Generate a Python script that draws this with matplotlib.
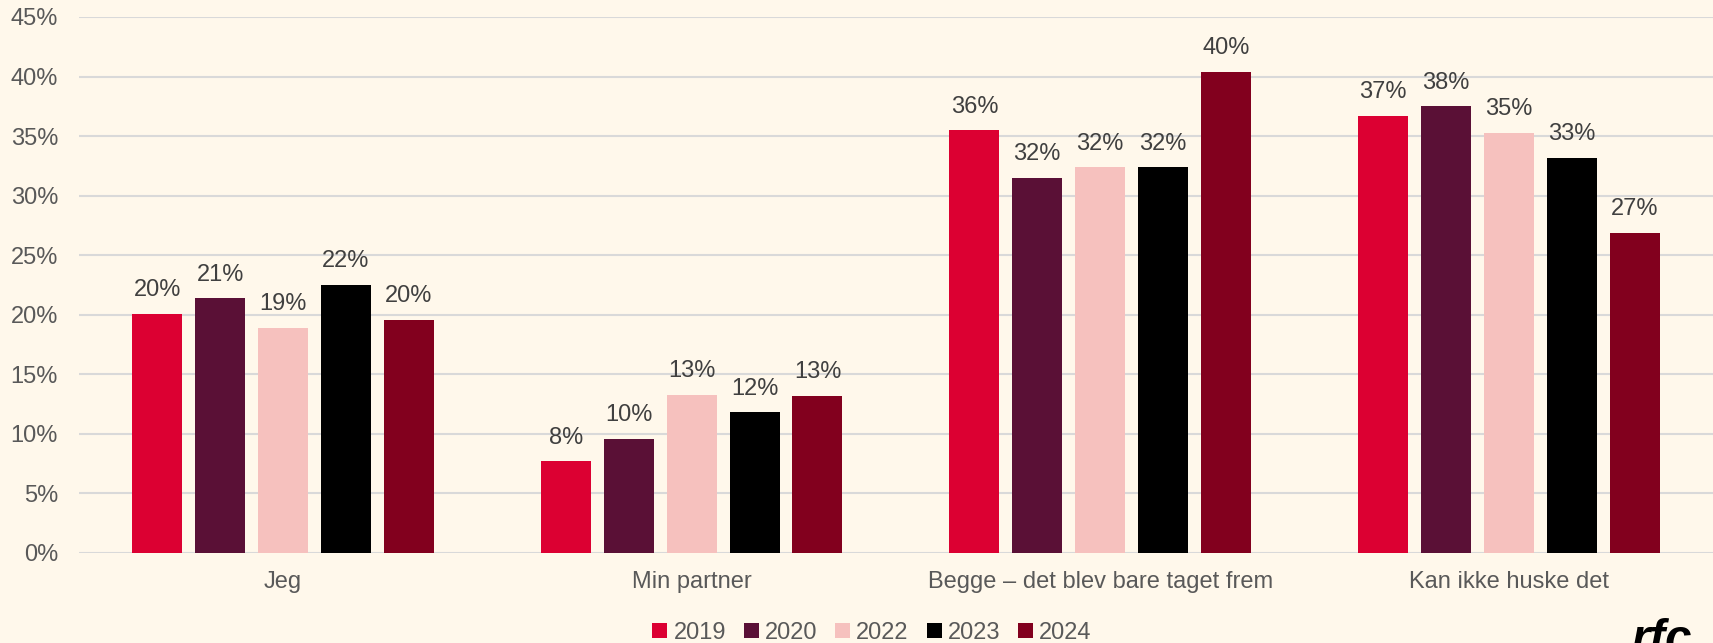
import numpy as np
import matplotlib
matplotlib.use('Agg')
import matplotlib.pyplot as plt
from matplotlib.patches import Patch

# data
categories = ['Jeg', 'Min partner', 'Begge – det blev bare taget frem', 'Kan ikke huske det']
years = ['2019', '2020', '2022', '2023', '2024']
v2019 = [20.1, 7.7, 35.5, 36.7]
v2020 = [21.4, 9.6, 31.5, 37.5]
v2022 = [18.9, 13.3, 32.4, 35.3]
v2023 = [22.5, 11.8, 32.4, 33.2]
v2024 = [19.6, 13.2, 40.4, 26.9]
colors = ['#DC0032', '#5A1036', '#F6C1BE', '#000000', '#82001E']

bg = '#FFF8EB'
plt.rcParams['font.family'] = ['Liberation Sans', 'DejaVu Sans']

fig = plt.figure(figsize=(17.13, 6.43), dpi=100, facecolor=bg)
ax = fig.add_axes([0.046, 0.14, 0.954, 0.8336])
ax.set_facecolor(bg)

x = np.arange(len(categories))
w = 0.1224
step = 0.154
series = [v2019, v2020, v2022, v2023, v2024]
for i, (vals, c) in enumerate(zip(series, colors)):
    pos = x + (i - 2) * step
    bars = ax.bar(pos, vals, width=w, color=c, zorder=3)
    for b, v in zip(bars, vals):
        ax.annotate(f'{v:.0f}%', (b.get_x() + b.get_width() / 2, v),
                    xytext=(0, 9), textcoords='offset points',
                    ha='center', va='bottom', fontsize=17, color='#404040')

ax.set_xlim(-0.5, len(categories) - 0.5)
ax.set_ylim(0, 45)
ax.set_yticks(np.arange(0, 46, 5))
ax.set_yticklabels([f'{t}%' for t in range(0, 46, 5)])
ax.set_xticks(x)
ax.set_xticklabels(categories)
ax.tick_params(axis='both', length=0, labelsize=17, colors='#595959')
ax.tick_params(axis='y', pad=15)
ax.tick_params(axis='x', pad=13)
ax.grid(axis='y', color='#D9D9D9', linewidth=1.5, zorder=0)
for s in ax.spines.values():
    s.set_visible(False)

handles = [Patch(facecolor=c, label=y) for c, y in zip(colors, years)]
fig.legend(handles=handles, loc='center', bbox_to_anchor=(0.509, 0.016),
           ncol=5, frameon=False, fontsize=17, labelcolor='#595959',
           handlelength=0.65, handleheight=0.65, handletextpad=0.25,
           columnspacing=0.75, borderpad=0.1)

fig.text(0.952, 1 - 618 / 643, 'rfc', fontsize=34, fontweight='bold',
         fontstyle='italic', color='black', va='top', ha='left')

fig.savefig('out.png', dpi=100, facecolor=bg)
